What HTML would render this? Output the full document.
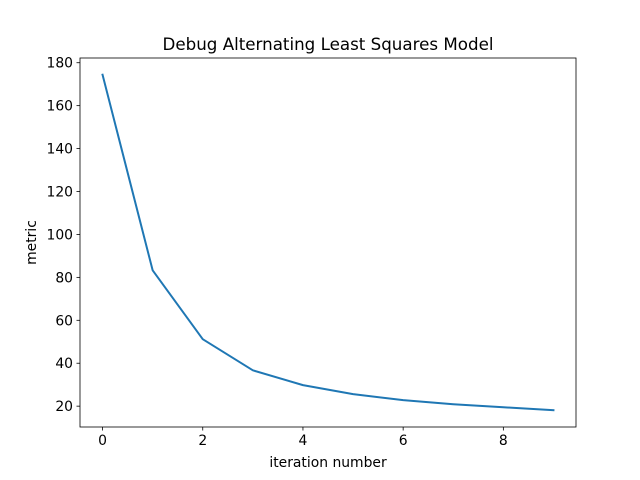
<!DOCTYPE html>
<html><head><meta charset="utf-8"><style>
html,body{margin:0;padding:0;background:#fff;width:640px;height:480px;overflow:hidden}
text{font-family:"DejaVu Sans","Liberation Sans",sans-serif;fill:#000}
</style></head><body>
<svg id="chart" width="640" height="480" xmlns="http://www.w3.org/2000/svg"></svg>
<script>
const iterations = [0,1,2,3,4,5,6,7,8,9];
const metricValues = [174.4,83.3,51.2,36.7,29.8,25.6,22.8,20.9,19.5,18.1];
const xTicks = [0,2,4,6,8];
const yTicks = [20,40,60,80,100,120,140,160,180];

const L=80,R=576,T=58,B=427;
const xMin=-0.45,xMax=9.45,yMin=10.29,yMax=182.2;
const sx=v=>L+(v-xMin)/(xMax-xMin)*(R-L);
const sy=v=>B-(v-yMin)/(yMax-yMin)*(B-T);
const svg=document.getElementById('chart');
const NS='http://www.w3.org/2000/svg';
function mk(tag,attrs,parent){const e=document.createElementNS(NS,tag);for(const k in attrs)e.setAttribute(k,attrs[k]);(parent||svg).appendChild(e);return e;}

const frame=mk('rect',{x:L,y:T,width:R-L,height:B-T,fill:'none',stroke:'#000','stroke-width':0.8});



xTicks.forEach(v=>{
  const g=mk('g',{});
  
  
  mk('line',{x1:sx(v),x2:sx(v),y1:B,y2:B+3.5,stroke:'#000','stroke-width':0.8},g);
  const t=mk('text',{x:sx(v),y:B+18,'text-anchor':'middle','font-size':13.9},g);t.textContent=v;
});
yTicks.forEach(v=>{
  const g=mk('g',{});
  
  
  mk('line',{x1:L-3.5,x2:L,y1:sy(v),y2:sy(v),stroke:'#000','stroke-width':0.8},g);
  const t=mk('text',{x:L-7,y:sy(v)+5,'text-anchor':'end','font-size':13.9},g);t.textContent=v;
});

const line=mk('polyline',{points:iterations.map((x,i)=>sx(x)+','+sy(metricValues[i])).join(' '),fill:'none',stroke:'#1f77b4','stroke-width':2,'stroke-linejoin':'round','stroke-linecap':'square'});



const title=mk('text',{x:(L+R)/2,y:50,'text-anchor':'middle','font-size':16.7});
title.textContent='Debug Alternating Least Squares Model';


const xl=mk('text',{x:(L+R)/2,y:467,'text-anchor':'middle','font-size':13.9});
xl.textContent='iteration number';


const yl=mk('text',{x:36,y:(T+B)/2,'text-anchor':'middle','font-size':13.9,transform:'rotate(-90 36 '+((T+B)/2)+')'});
yl.textContent='metric';


</script>
</body></html>
